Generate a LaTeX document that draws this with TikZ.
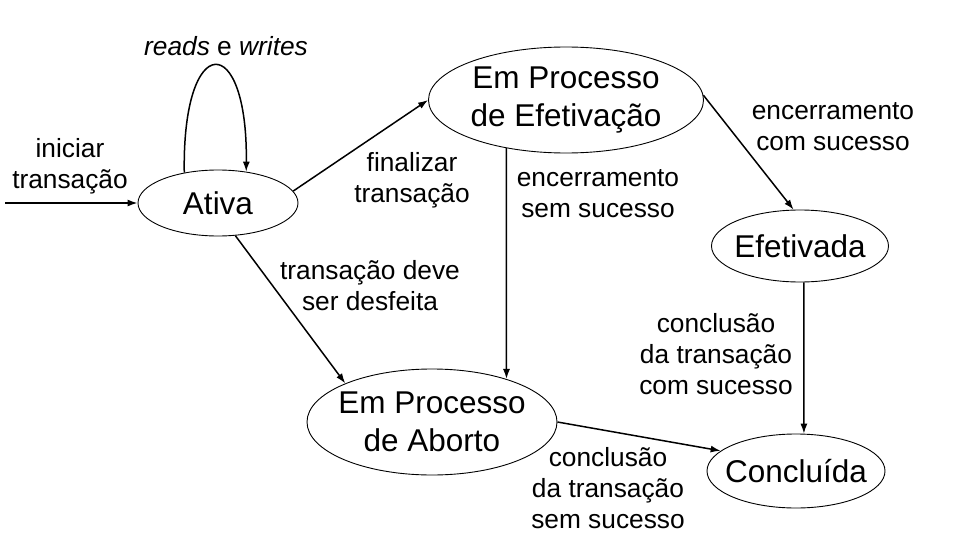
\documentclass[tikz,border=0pt]{standalone}
\usepackage{fontspec}
\setmainfont{Liberation Sans}
\usetikzlibrary{arrows.meta,shapes.geometric}
\begin{document}
\begin{tikzpicture}[x=1pt,y=-1pt,
  state/.style={ellipse,draw,line width=0.9pt,inner xsep=-25pt,inner ysep=-10pt,align=center,font=\fontsize{31.5}{37.5}\selectfont},
  lbl/.style={align=center,inner sep=0pt,font=\fontsize{26.3}{31}\selectfont},
  conn/.style={line width=1.5pt,-{Latex[length=10pt,width=7pt]}}]
\useasboundingbox (0,0) rectangle (953,535);
\node[state,minimum width=160,minimum height=66] (ativa) at (218,203) {Ativa};
\node[state,minimum width=275,minimum height=106] (efet) at (566,100) {Em Processo\\de Efetivação};
\node[state,minimum width=177,minimum height=72] (efetivada) at (800,246) {Efetivada};
\node[state,minimum width=250,minimum height=106] (aborto) at (432,422) {Em Processo\\de Aborto};
\node[state,minimum width=178,minimum height=74] (concl) at (796,471) {Concluída};
\coordinate (start) at (5,203);
\draw[conn] (start) -- (ativa.west);
\draw[conn] (ativa.138) .. controls (182,30) and (248,30) .. (ativa.48);
\draw[conn] (ativa.9) -- (efet.west);
\draw[conn] (efet.2) -- (efetivada.100);
\draw[conn] (efet.219.6) -- (aborto.30.2);
\draw[conn] (ativa.-62) -- (aborto.156.3);
\draw[conn] (efetivada.-84) -- (concl.78);
\draw[conn] (aborto.east) -- (concl.165.6);
\node[lbl] (lloop) at (226,46) {\textit{reads} e \textit{writes}};
\node[lbl] (linit) at (70,166) {iniciar\\transação};
\node[lbl] (lfin) at (412,180) {finalizar\\transação};
\node[lbl] (lenc1) at (598,194) {encerramento\\sem sucesso};
\node[lbl] (lenc2) at (833,127) {encerramento\\com sucesso};
\node[lbl] (ldesf) at (370,286) {transação deve\\ser desfeita};
\node[lbl] (lccom) at (716,354) {conclusão\\da transação\\com sucesso};
\node[lbl] (lcsem) at (608,488) {conclusão\\da transação\\sem sucesso};
\end{tikzpicture}
\end{document}
